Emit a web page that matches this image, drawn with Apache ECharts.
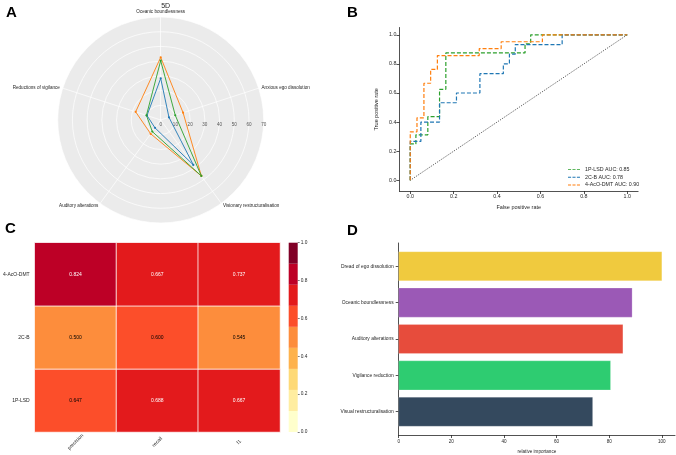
<!DOCTYPE html>
<html><head><meta charset="utf-8">
<script src="https://cdn.jsdelivr.net/npm/echarts@6/dist/echarts.min.js"></script>
<style>html,body{margin:0;padding:0;background:#fff}#c{width:676px;height:455px}</style>
</head><body><div id="c"></div>
<script>
// ---------- Panel A: 5D radar ----------
const radarAxes = ['Oceanic boundlessness','Anxious ego dissolution','Visionary restructuralisation','Auditory alterations','Reductions of vigilance'];
const radarTicks = [0,10,20,30,40,50,60,70];
const radar1PLSD = [40.3, 10.4, 47.0, 9.7, 10.2];
const radar2CB   = [28.3, 5.9, 37.7, 6.6, 9.8];
const radar4AcO  = [42.6, 16.0, 47.0, 11.6, 17.9];

// ---------- Panel B: ROC curves ----------
const rocNames = ['1P-LSD AUC: 0.85','2C-B AUC: 0.78','4-AcO-DMT AUC: 0.90'];
const fpr1PLSD = [0,0,0.026,0.026,0.081,0.081,0.135,0.135,0.164,0.164,0.529,0.529,0.555,0.555,1];
const tpr1PLSD = [0,0.25,0.25,0.3125,0.3125,0.4375,0.4375,0.625,0.625,0.875,0.875,0.9375,0.9375,1,1];
const fpr2CB = [0,0,0.049,0.049,0.135,0.135,0.213,0.213,0.321,0.321,0.429,0.429,0.457,0.457,0.484,0.484,0.70,0.70,1];
const tpr2CB = [0,0.267,0.267,0.4,0.4,0.533,0.533,0.6,0.6,0.733,0.733,0.8,0.8,0.867,0.867,0.933,0.933,1,1];
const fpr4AcO = [0,0,0.031,0.031,0.063,0.063,0.094,0.094,0.125,0.125,0.318,0.318,0.419,0.419,0.609,0.609,1];
const tpr4AcO = [0,0.333,0.333,0.429,0.429,0.667,0.667,0.762,0.762,0.857,0.857,0.905,0.905,0.952,0.952,1,1];
const rocTicks = [0,0.2,0.4,0.6,0.8,1.0];

// ---------- Panel C: metrics heatmap ----------
const metrics = ['precision','recall','f1'];
const models = ['1P-LSD','2C-B','4-AcO-DMT'];
const scores1PLSD = [0.647,0.688,0.667];
const scores2CB   = [0.500,0.600,0.545];
const scores4AcO  = [0.824,0.667,0.737];
const colorbarTicks = [0,0.2,0.4,0.6,0.8,1.0];

// ---------- Panel D: feature importance ----------
const features = ['Visual restructuralisation','Vigilance reduction','Auditory alterations','Oceanic boundlessness','Dread of ego dissolution'];
const importance = [73.7, 80.5, 85.2, 88.7, 100];
const importanceTicks = [0,20,40,60,80,100];

// ---------- styles ----------
const FONT = 'Liberation Sans, Arial, sans-serif';
const TXT = '#262626';
const cGreen = '#2ca02c', cBlue = '#1f77b4', cOrange = '#ff7f0e';
const ylorrd = ['#ffffcc','#ffeda0','#fed976','#feb24c','#fd8d3c','#fc4e2a','#e31a1c','#bd0026','#800026'];
const barColors = ['#34495e','#2ecc71','#e74c3c','#9b59b6','#f0ca3e'];
const dashIcon = 'path://M0,0h3.6v1h-3.6z M5.2,0h3.6v1h-3.6z M10.4,0h3.6v1h-3.6z';

// radar: ECharts places indicators counter-clockwise; matplotlib order is clockwise
const ccwOrder = [0,4,3,2,1];
const reorder = arr => ccwOrder.map(i => arr[i]);
const rMax = radarTicks[radarTicks.length-1];

const zip = (a,b) => a.map((v,i)=>[v,b[i]]);

const heatData = [];
[scores1PLSD, scores2CB, scores4AcO].forEach((row, yi) => {
  row.forEach((v, xi) => {
    const band = Math.min(8, Math.floor(v * 9));
    heatData.push({value:[xi, yi, v], label:{color: band >= 6 ? '#ffffff' : '#000000'}});
  });
});

const pieces = ylorrd.map((c,i)=>({gte:i/9, lt:(i+1)/9 + (i===8?1e-9:0), color:c}));

const chart = echarts.init(document.getElementById('c'), null, {renderer:'canvas'});

const lineStyleAx = {color:TXT, width:0.8};

const option = {
  backgroundColor:'#ffffff',
  animation:false,
  textStyle:{fontFamily:FONT},
  title:[
    {text:'A', left:1, top:0, textStyle:{fontSize:15, fontWeight:'bold', color:'#000', fontFamily:FONT}},
    {text:'B', left:342, top:0, textStyle:{fontSize:15, fontWeight:'bold', color:'#000', fontFamily:FONT}},
    {text:'C', left:0, top:216, textStyle:{fontSize:15, fontWeight:'bold', color:'#000', fontFamily:FONT}},
    {text:'D', left:342, top:218, textStyle:{fontSize:15, fontWeight:'bold', color:'#000', fontFamily:FONT}},
    {text:'5D', left:160.7, top:-2, textAlign:'center', textStyle:{fontSize:7, fontWeight:'normal', color:TXT, fontFamily:FONT}}
  ],
  radar:{
    center:[160.7,120], radius:103, startAngle:90, shape:'circle', splitNumber:radarTicks.length-1,
    indicator: reorder(radarAxes).map(n=>({name:n, min:0, max:rMax})),
    nameGap:3,
    axisName:{color:TXT, fontSize:4.6, fontFamily:FONT},
    splitArea:{show:true, areaStyle:{color:['#ebebeb']}},
    splitLine:{lineStyle:{color:'#ffffff', width:0.7}},
    axisLine:{lineStyle:{color:'#ffffff', width:0.7}},
    axisTick:{show:false}, axisLabel:{show:false}
  },
  polar:{center:[160.7,120], radius:103},
  angleAxis:{type:'value', min:0, max:360, startAngle:0, show:false},
  radiusAxis:{type:'value', min:0, max:rMax, interval:10, axisLine:{show:false}, axisTick:{show:false}, splitLine:{show:false},
    axisLabel:{fontSize:4.6, color:'#555', margin:-2, verticalAlign:'top', fontFamily:FONT}},
  legend:{
    data:rocNames.map(n=>({name:n, icon:dashIcon})), orient:'vertical', left:563, top:161.5,
    itemWidth:12, itemHeight:1.3, itemGap:1.5,
    textStyle:{fontSize:5.3, lineHeight:6.2, color:TXT, fontFamily:FONT}
  },
  grid:[
    {left:399.4, top:27.5, width:238.7, height:163.5},
    {left:32, top:242.7, width:248, height:189.3},
    {left:288.7, top:242.7, width:9, height:189.3},
    {left:398.7, top:243, width:276.3, height:193}
  ],
  xAxis:[
    {gridIndex:0, type:'value', min:-0.05, max:1.05, splitLine:{show:false},
      axisLine:{show:true, onZero:false, lineStyle:lineStyleAx},
      axisTick:{show:true, length:3, customValues:rocTicks, lineStyle:lineStyleAx},
      axisLabel:{customValues:rocTicks, fontSize:5.3, color:TXT, margin:3, formatter:v=>v.toFixed(1)},
      name:'False positive rate', nameLocation:'middle', nameGap:13, nameTextStyle:{fontSize:5.5, color:TXT}},
    {gridIndex:1, type:'category', data:metrics, axisLine:{show:false}, axisTick:{show:false},
      axisLabel:{rotate:45, align:'center', verticalAlign:'middle', margin:10, fontSize:5, color:TXT}},
    {gridIndex:2, type:'category', data:[''], show:false},
    {gridIndex:3, type:'value', min:0, max:105, splitLine:{show:false},
      axisLine:{show:true, onZero:false, lineStyle:lineStyleAx},
      axisTick:{show:true, length:3, customValues:importanceTicks, lineStyle:lineStyleAx},
      axisLabel:{customValues:importanceTicks, fontSize:4.6, color:TXT, margin:4},
      name:'relative importance', nameLocation:'middle', nameGap:14, nameTextStyle:{fontSize:4.6, color:TXT}}
  ],
  yAxis:[
    {gridIndex:0, type:'value', min:-0.0735, max:1.05, splitLine:{show:false},
      axisLine:{show:true, onZero:false, lineStyle:lineStyleAx},
      axisTick:{show:true, length:3, customValues:rocTicks, lineStyle:lineStyleAx},
      axisLabel:{customValues:rocTicks, fontSize:5.3, color:TXT, margin:3, formatter:v=>v.toFixed(1)},
      name:'True positive rate', nameLocation:'middle', nameGap:20, nameTextStyle:{fontSize:5.5, color:TXT}},
    {gridIndex:1, type:'category', data:models, axisLine:{show:false}, axisTick:{show:false},
      axisLabel:{fontSize:5, color:TXT, margin:5}},
    {gridIndex:2, type:'value', min:0, max:1, interval:0.2, position:'right',
      axisLine:{show:false}, axisTick:{show:true, length:2, lineStyle:{color:TXT, width:0.6}}, splitLine:{show:false},
      axisLabel:{fontSize:4.8, color:TXT, margin:3, formatter:v=>v.toFixed(1)}},
    {gridIndex:3, type:'value', min:-0.64, max:4.64, splitLine:{show:false},
      axisLine:{show:true, onZero:false, lineStyle:lineStyleAx},
      axisTick:{show:true, length:3, customValues:[0,1,2,3,4], lineStyle:lineStyleAx},
      axisLabel:{customValues:[0,1,2,3,4], fontSize:4.9, color:TXT, margin:5, formatter:v=>features[Math.round(v)]}}
  ],
  visualMap:{type:'piecewise', show:false, seriesIndex:5, dimension:2, pieces:pieces},
  series:[
    // radar (A)
    {type:'radar', symbol:'circle', symbolSize:2.2, lineStyle:{width:0.9}, z:3,
      data:[
        {value:reorder(radar2CB), name:'2C-B', itemStyle:{color:cBlue}, lineStyle:{color:cBlue}},
        {value:reorder(radar4AcO), name:'4-AcO-DMT', itemStyle:{color:cOrange}, lineStyle:{color:cOrange}},
        {value:reorder(radar1PLSD), name:'1P-LSD', itemStyle:{color:cGreen}, lineStyle:{color:cGreen}}
      ]},
    // ROC (B)
    {type:'line', name:'chance', xAxisIndex:0, yAxisIndex:0, data:[[0,0],[1,1]], symbol:'none',
      lineStyle:{color:'#333', width:0.9, type:[1,1.3]}, silent:true},
    {type:'line', name:rocNames[0], xAxisIndex:0, yAxisIndex:0, data:zip(fpr1PLSD,tpr1PLSD), symbol:'none',
      itemStyle:{color:cGreen}, lineStyle:{color:cGreen, width:1.2, type:[4,2]}},
    {type:'line', name:rocNames[1], xAxisIndex:0, yAxisIndex:0, data:zip(fpr2CB,tpr2CB), symbol:'none',
      itemStyle:{color:cBlue}, lineStyle:{color:cBlue, width:1.2, type:[4,2]}},
    {type:'line', name:rocNames[2], xAxisIndex:0, yAxisIndex:0, data:zip(fpr4AcO,tpr4AcO), symbol:'none',
      itemStyle:{color:cOrange}, lineStyle:{color:cOrange, width:1.2, type:[4,2]}},
    // heatmap (C) index 5
    {type:'heatmap', xAxisIndex:1, yAxisIndex:1, data:heatData,
      itemStyle:{borderColor:'#ffffff', borderWidth:0.8},
      label:{show:true, fontSize:5, formatter:p=>p.value[2].toFixed(3)}},
    // feature importance (D)
    {type:'custom', xAxisIndex:3, yAxisIndex:3, data:importance.map((v,i)=>[v,i]),
      encode:{x:0, y:1},
      renderItem:function(params, api){
        const v = api.value(0), y = api.value(1);
        const p0 = api.coord([0, y + 0.4]);
        const p1 = api.coord([v, y - 0.4]);
        return {type:'rect', shape:{x:p0[0], y:p0[1], width:p1[0]-p0[0], height:p1[1]-p0[1]},
          style:{fill:barColors[params.dataIndex], stroke:'rgba(255,255,255,0.35)', lineWidth:0.6}};
      }}
  ].concat(ylorrd.map((c,i)=>({
      type:'bar', xAxisIndex:2, yAxisIndex:2, stack:'cb', data:[1/ylorrd.length], barWidth:'100%',
      itemStyle:{color:c}, silent:true
    })))
};
chart.setOption(option);
</script></body></html>
